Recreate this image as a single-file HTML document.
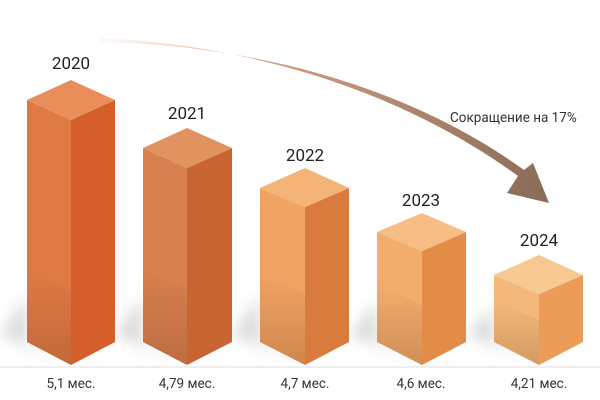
<!DOCTYPE html>
<html><head><meta charset="utf-8"><style>
html,body{margin:0;padding:0;background:#fff;}
svg{display:block;font-family:"Roboto","Liberation Sans",sans-serif;}
</style></head><body>
<svg width="600" height="400" viewBox="0 0 600 400" xmlns="http://www.w3.org/2000/svg">
<defs>
<linearGradient id="arr" x1="100" y1="40" x2="540" y2="200" gradientUnits="userSpaceOnUse">
<stop offset="0" stop-color="#fbe9dc" stop-opacity="0.3"/>
<stop offset="0.3" stop-color="#d8a487"/>
<stop offset="1" stop-color="#8a6c58"/>
</linearGradient>
<filter id="blur" x="-50%" y="-50%" width="200%" height="200%"><feGaussianBlur stdDeviation="7"/></filter>
<linearGradient id="dark" x1="0" y1="0" x2="0" y2="1">
<stop offset="0" stop-color="#5a2a10" stop-opacity="0"/>
<stop offset="1" stop-color="#5a2a10" stop-opacity="0.22"/>
</linearGradient>
</defs>
<line x1="0" y1="367" x2="600" y2="367" stroke="#ddd" stroke-width="1"/>
<g filter="url(#blur)" fill="#999" opacity="0.35">
<polygon points="27,295 27,342 71,365 0,335"/>
<polygon points="143,295 143,342 187,365 115,335"/>
<polygon points="260,295 260,342 305,365 232,335"/>
<polygon points="377,300 377,342 422,365 350,335"/>
<polygon points="494,305 494,342 539,365 467,335"/>
</g>
<path d="M100,38 C250,45 400,90 518,176 L507,193 L549,203 L533,163 L524,170 C405,84 250,45 100,42 Z" fill="url(#arr)"/>
<text x="450" y="122" font-size="13.5" fill="#333">Сокращение на 17%</text>
<g>
<polygon points="27,100 71,120 71,365 27,342" fill="#e07a45"/>
<polygon points="71,120 115,100 115,342 71,365" fill="#d45f2a"/>
<polygon points="27,100 71,80 115,100 71,120" fill="#e98d5a"/>
<polygon points="27,270 71,290 71,365 27,342" fill="url(#dark)"/>

<polygon points="143,148 187,168 187,365 143,342" fill="#d8804f"/>
<polygon points="187,168 232,148 232,342 187,365" fill="#c96533"/>
<polygon points="143,148 187,128 232,148 187,168" fill="#e0925f"/>
<polygon points="143,270 187,290 187,365 143,342" fill="url(#dark)"/>

<polygon points="260,188 305,207 305,365 260,342" fill="#f0a262"/>
<polygon points="305,207 349,188 349,342 305,365" fill="#d97b3c"/>
<polygon points="260,188 305,168 349,188 305,207" fill="#f5b477"/>
<polygon points="260,275 305,295 305,365 260,342" fill="url(#dark)"/>

<polygon points="377,232 422,251 422,365 377,342" fill="#f2ac6c"/>
<polygon points="422,251 466,232 466,342 422,365" fill="#e38c48"/>
<polygon points="377,232 422,213 466,232 422,251" fill="#f6bd84"/>
<polygon points="377,285 422,305 422,365 377,342" fill="url(#dark)"/>

<polygon points="494,275 539,294 539,365 494,342" fill="#f4b97a"/>
<polygon points="539,294 583,275 583,342 539,365" fill="#ea9c58"/>
<polygon points="494,275 539,255 583,275 539,294" fill="#f8c893"/>
<polygon points="494,300 539,320 539,365 494,342" fill="url(#dark)"/>
</g>
<g font-size="17" fill="#222" text-anchor="middle">
<text x="71" y="69">2020</text>
<text x="187" y="119">2021</text>
<text x="305" y="161">2022</text>
<text x="421" y="206">2023</text>
<text x="539" y="246">2024</text>
</g>
<g font-size="13.5" fill="#333" text-anchor="middle">
<text x="71" y="388">5,1 мес.</text>
<text x="187" y="388">4,79 мес.</text>
<text x="305" y="388">4,7 мес.</text>
<text x="421" y="388">4,6 мес.</text>
<text x="539" y="388">4,21 мес.</text>
</g>
</svg>
</body></html>
